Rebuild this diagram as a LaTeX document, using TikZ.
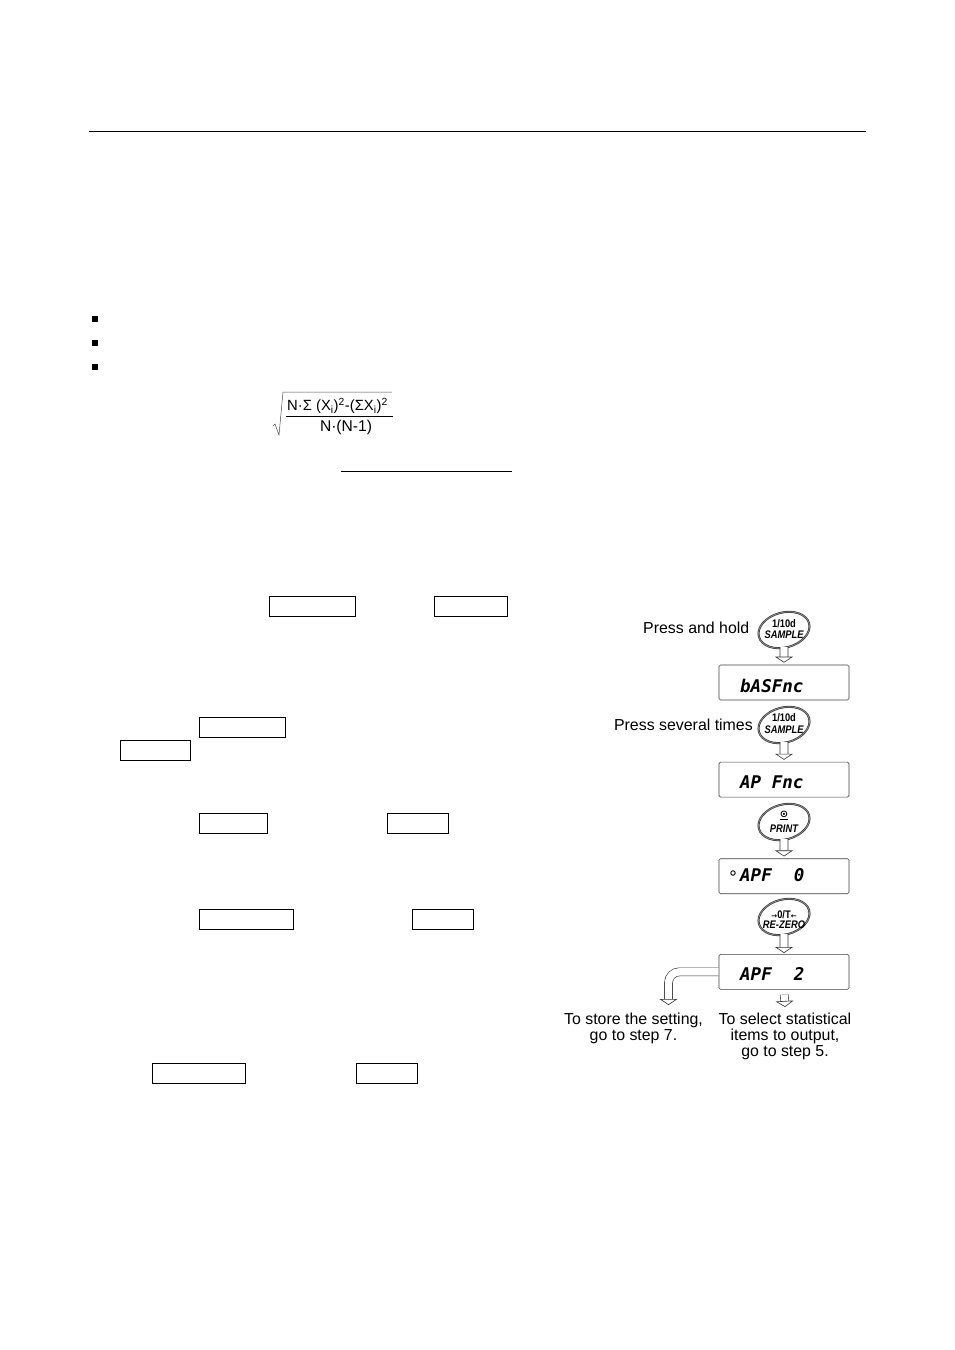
\documentclass[tikz,border=0pt]{standalone}
\usepackage{fontspec}
\setmainfont{Liberation Sans}
\newfontfamily\lcdfont{DejaVu Sans Mono}
\newfontfamily\keyfont{Liberation Sans}[FakeStretch=0.85]
\newfontfamily\symfont{DejaVu Sans}
\usetikzlibrary{arrows.meta, shapes.geometric, positioning}

\begin{document}
\begin{tikzpicture}[
    x=1pt, y=-1pt,
    keybox/.style={
        rectangle, draw, line width=0.9pt, inner sep=0pt,
        minimum height=20.5pt
    },
    lcd/.style={
        rectangle, draw=black!75, line width=0.6pt, rounded corners=1.5pt,
        minimum width=130pt, minimum height=35pt, inner sep=0pt
    },
    lcdtext/.style={font=\lcdfont\bfseries\itshape\fontsize{17.5}{18}\selectfont, anchor=west, inner sep=0pt},
    btn/.style={
        ellipse, draw=black!80, double=black!45, double distance=0.8pt,
        line width=0.6pt, minimum width=52pt, minimum height=35pt,
        inner sep=0pt, rotate=15
    },
    btntext/.style={
        font=\keyfont\bfseries\fontsize{11}{12}\selectfont, align=center, inner sep=0pt
    },
    hollow/.style={
        double=white, double distance=7.4pt, line width=0.6pt, black!80,
        -{Triangle[open, fill=white, length=6pt, width=18pt, line width=0.6pt]}
    },
    caption/.style={font=\fontsize{15.9}{16}\selectfont, align=center, inner sep=0pt}
]
\useasboundingbox (0,0) rectangle (954,1350);

%% ─── PAGE RULE AND BULLETS ───────────────────────────────────
\draw[line width=0.9pt] (89,131) -- (866,131);
\foreach \yy in {319,343,367} {
    \fill (92,\yy-3) rectangle (97.5,\yy+3);
}

%% ─── FORMULA ─────────────────────────────────────────────────
\node[inner sep=0pt, font=\fontsize{14.8}{16}\selectfont] (numer) at (337.5,406)
    {N·Σ (X\textsubscript{i})\textsuperscript{2}-(ΣX\textsubscript{i})\textsuperscript{2}};
\node[inner sep=0pt, font=\fontsize{15.6}{16}\selectfont] (denom) at (346,427) {N·(N-1)};
\draw[line width=0.8pt] (286,416) -- (393,416);
\draw[line width=0.5pt, black!70] (273,426) -- (275,424) -- (279,435) -- (283,392) -- (392,392);
\draw[line width=0.9pt] (341,471) -- (512,471);

%% ─── KEY BOXES IN THE STEPS ──────────────────────────────────
\node[keybox, minimum width=86pt] (keyA) at (312.5,606.5) {};
\node[keybox, minimum width=73pt, right=78.5pt of keyA] (keyB) {};

\node[keybox, minimum width=86pt] (keyC) at (242.5,727.5) {};
\node[keybox, minimum width=70pt] (keyD) at (155.5,750.5) {};

\node[keybox, minimum width=68pt] (keyE) at (233.5,823.5) {};
\node[keybox, minimum width=61pt, right=119pt of keyE] (keyF) {};

\node[keybox, minimum width=94pt] (keyG) at (246.5,919.5) {};
\node[keybox, minimum width=61pt, right=118pt of keyG] (keyH) {};

\node[keybox, minimum width=93pt] (keyI) at (199,1073.5) {};
\node[keybox, minimum width=61pt, right=110pt of keyI] (keyJ) {};

%% ─── DISPLAYS ────────────────────────────────────────────────
\node[lcd] (lcdA) at (784,682.5) {};
\node[lcd, below=61.5pt of lcdA] (lcdB) {};
\node[lcd, below=61pt of lcdB] (lcdC) {};
\node[lcd, below=60pt of lcdC] (lcdD) {};

\node[lcdtext] (lcdtextA) at (740,686) {bASFnc};
\node[lcdtext] (lcdtextB) at (740,782) {AP Fnc};
\node[lcdtext] (lcdtextC) at (740,875) {APF\hspace{22pt}0};
\node[lcdtext] (lcdtextD) at (740,974) {APF\hspace{22pt}2};
\node[circle, draw, line width=0.9pt, minimum size=4.5pt, inner sep=0pt] (dotC) at (733,873) {};

%% ─── KEYS ────────────────────────────────────────────────────
\node[btn] (btnA) at (784,630) {};
\node[btntext] (btnlabelA) at (784,629) {1/10d\\[-0.5pt]\itshape SAMPLE};
\node[btn] (btnB) at (784,725) {};
\node[btntext] (btnlabelB) at (784,723.5) {1/10d\\[-0.5pt]\itshape SAMPLE};
\node[btn] (btnC) at (784,822) {};
\node[btntext] (btnlabelC) at (784,822) {{\symfont\fontsize{10}{10}\selectfont\underline{⊙}}\\[3pt]\itshape PRINT};
\node[btn] (btnD) at (784,917) {};
\node[btntext] (btnlabelD) at (784,919.5) {{\symfont\fontsize{7}{7}\selectfont →}0/T{\symfont\fontsize{7}{7}\selectfont ←}\\[-2pt]\itshape RE-ZERO};

%% ─── CAPTIONS ────────────────────────────────────────────────
\node[caption, anchor=east] (holdtext) at (749.5,628) {Press and hold};
\node[caption, anchor=east] (timestext) at (753,725) {Press several times};
\node[caption] (storetext) at (633.5,1028) {To store the setting,\\go to step 7.};
\node[caption] (selecttext) at (785,1036) {To select statistical\\items to output,\\go to step 5.};

%% ─── ARROWS ──────────────────────────────────────────────────
\draw[hollow, shorten <=-1pt, shorten >=2pt] (btnA) -- (lcdA);
\draw[hollow, shorten <=-1pt, shorten >=2pt] (btnB) -- (lcdB);
\draw[hollow, shorten <=-1pt, shorten >=2pt] (btnC) -- (lcdC);
\draw[hollow, shorten <=-1pt, shorten >=1pt] (btnD) -- (lcdD);

\coordinate (storeend) at (668.5,1005);
\coordinate (selectend) at (785,1007);
\draw[hollow, rounded corners=11pt] (lcdD.west) -| (storeend);
\draw[hollow, shorten <=5pt] (lcdD.south) -- (selectend);

\end{tikzpicture}
\end{document}
